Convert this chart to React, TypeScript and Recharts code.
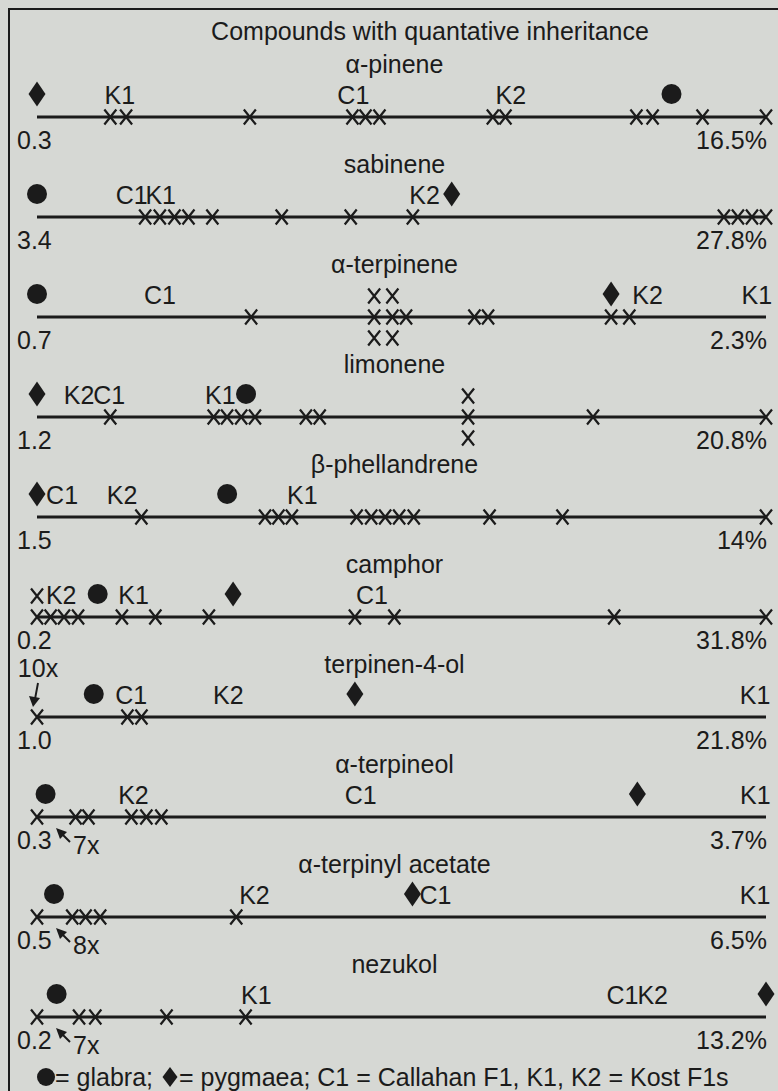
import React from "react";
import { ScatterChart, Scatter, XAxis, YAxis, ReferenceLine } from "recharts";

const FONT = "'Liberation Sans', Arial, sans-serif";
const INK = "#1b1b1b";
const BG = "#d6d8d4";

const compounds = [
  "α-pinene",
  "sabinene",
  "α-terpinene",
  "limonene",
  "β-phellandrene",
  "camphor",
  "terpinen-4-ol",
  "α-terpineol",
  "α-terpinyl acetate",
  "nezukol",
];
const minValues = [0.3, 3.4, 0.7, 1.2, 1.5, 0.2, 1.0, 0.3, 0.5, 0.2];
const maxValues = [16.5, 27.8, 2.3, 20.8, 14, 31.8, 21.8, 3.7, 6.5, 13.2];
const minLabels = ["0.3", "3.4", "0.7", "1.2", "1.5", "0.2", "1.0", "0.3", "0.5", "0.2"];
const maxLabels = ["16.5%", "27.8%", "2.3%", "20.8%", "14%", "31.8%", "21.8%", "3.7%", "6.5%", "13.2%"];

// F2 plants (x marks). repeated values get stacked above / below the line
const f2Values = [
  [1.93, 2.28, 5.03, 7.31, 7.6, 7.91, 10.43, 10.71, 13.62, 13.98, 15.09, 16.5],
  [7.02, 7.51, 8.0, 8.47, 9.27, 11.59, 13.9, 15.98, 26.39, 26.86, 27.33, 27.8],
  [1.17, 1.44, 1.44, 1.44, 1.48, 1.48, 1.48, 1.51, 1.66, 1.69, 1.96, 2.0],
  [3.17, 5.95, 6.31, 6.69, 7.06, 8.43, 8.8, 12.79, 12.79, 12.79, 16.15, 20.8],
  [3.29, 5.41, 5.64, 5.87, 6.98, 7.23, 7.47, 7.71, 7.96, 9.26, 10.51, 14],
  [0.2, 0.2, 0.79, 1.37, 1.98, 3.88, 5.33, 7.65, 13.98, 15.69, 25.22, 31.8],
  [1.0, 3.58, 3.98],
  [0.3, 0.48, 0.54, 0.74, 0.81, 0.88],
  [0.5, 0.79, 0.9, 1.02, 2.14],
  [0.2, 0.95, 1.24, 2.51, 3.92],
];

// parents
const glabra = [14.4, 3.4, 0.7, 6.82, 4.76, 2.83, 2.62, 0.34, 0.64, 0.55];
const pygmaea = [0.3, 17.28, 1.96, 1.2, 1.5, 8.7, 10.07, 3.1, 3.59, 13.2];

// F1s
const c1 = [7.33, 6.57, 0.97, 3.14, 1.93, 14.72, 3.69, 1.81, 3.78, 10.64];
const k1 = [2.14, 7.54, 2.28, 6.13, 6.05, 4.39, 21.49, 3.65, 6.41, 4.11];
const k2 = [10.83, 16.37, 2.04, 2.33, 2.96, 1.25, 6.46, 0.75, 2.29, 11.18];

// piles of identical F2 values at the low end
const pileRows = [6, 7, 8, 9];
const pileCounts = ["10x", "7x", "8x", "7x"];

type Pt = { x: number; y: number; kind: string; text?: string; level?: number };

const rowData: Pt[][] = compounds.map((name, i) => {
  const pts: Pt[] = [];
  const seen: Record<string, number> = {};
  f2Values[i].forEach((v) => {
    const level = seen[v] ?? 0;
    seen[v] = level + 1;
    pts.push({ x: v, y: i, kind: "f2", level });
  });
  pts.push({ x: glabra[i], y: i, kind: "glabra" });
  pts.push({ x: pygmaea[i], y: i, kind: "pygmaea" });
  pts.push({ x: c1[i], y: i, kind: "f1", text: "C1" });
  pts.push({ x: k1[i], y: i, kind: "f1", text: "K1" });
  pts.push({ x: k2[i], y: i, kind: "f1", text: "K2" });
  pts.push({ x: minValues[i], y: i, kind: "min", text: minLabels[i] });
  pts.push({ x: maxValues[i], y: i, kind: "max", text: maxLabels[i] });
  pts.push({ x: (minValues[i] + maxValues[i]) / 2, y: i, kind: "name", text: name });
  const p = pileRows.indexOf(i);
  if (p >= 0) pts.push({ x: minValues[i], y: i, kind: p === 0 ? "pileUp" : "pileDown", text: pileCounts[p] });
  return pts;
});

const txt = { fontFamily: FONT, fontSize: 25, fill: INK };

function Diamond({ x, y, w, h }: { x: number; y: number; w: number; h: number }) {
  return <polygon points={`${x},${y - h} ${x + w},${y} ${x},${y + h} ${x - w},${y}`} fill={INK} />;
}

function Mark(props: any) {
  const { cx, cy, payload } = props;
  if (cx == null || cy == null) return null;
  switch (payload.kind) {
    case "f2": {
      const y = cy + (payload.level === 1 ? -21 : payload.level === 2 ? 21 : 0);
      return (
        <path
          d={`M${cx - 6},${y - 7.5}L${cx + 6},${y + 7.5}M${cx + 6},${y - 7.5}L${cx - 6},${y + 7.5}`}
          stroke={INK}
          strokeWidth={2.2}
        />
      );
    }
    case "glabra":
      return <circle cx={cx} cy={cy - 23} r={10} fill={INK} />;
    case "pygmaea":
      return <Diamond x={cx} y={cy - 23} w={8.5} h={12.5} />;
    case "f1":
      return <text x={cx} y={cy - 13} textAnchor="middle" {...txt}>{payload.text}</text>;
    case "min":
      return <text x={cx - 20} y={cy + 32} {...txt}>{payload.text}</text>;
    case "max":
      return <text x={cx + 1} y={cy + 32} textAnchor="end" {...txt}>{payload.text}</text>;
    case "name":
      return <text x={cx - 7} y={cy - 44} textAnchor="middle" {...txt}>{payload.text}</text>;
    case "pileUp":
      return (
        <g>
          <text x={cx + 1} y={cy - 40} textAnchor="middle" {...txt}>{payload.text}</text>
          <line x1={cx + 1} y1={cy - 34} x2={cx - 2} y2={cy - 18} stroke={INK} strokeWidth={2} />
          <polygon points={`${cx - 4},${cy - 10} ${cx - 8},${cy - 21} ${cx + 3},${cy - 19}`} fill={INK} />
        </g>
      );
    case "pileDown":
      return (
        <g>
          <text x={cx + 36} y={cy + 37} {...txt}>{payload.text}</text>
          <line x1={cx + 33} y1={cy + 25} x2={cx + 24} y2={cy + 16} stroke={INK} strokeWidth={2} />
          <polygon points={`${cx + 19},${cy + 11} ${cx + 30},${cy + 15} ${cx + 23},${cy + 22}`} fill={INK} />
        </g>
      );
    default:
      return null;
  }
}

export default function App() {
  return (
    <div style={{ position: "absolute", left: 0, top: 0, width: 778, height: 1091, background: BG, overflow: "hidden" }}>
      <div
        style={{
          position: "absolute",
          left: 8,
          top: 8,
          width: 820,
          height: 1120,
          border: `2.5px solid ${INK}`,
          boxSizing: "border-box",
        }}
      />
      <ScatterChart
        width={778}
        height={1091}
        margin={{ top: 117, right: 12, bottom: 74, left: 37 }}
        style={{ position: "absolute", left: 0, top: 0 }}
      >
        {compounds.map((c, i) => (
          <XAxis key={c} xAxisId={i} type="number" dataKey="x" domain={[minValues[i], maxValues[i]]} hide />
        ))}
        <YAxis type="number" dataKey="y" domain={[0, compounds.length - 1]} reversed hide />
        {compounds.map((c, i) => (
          <ReferenceLine key={c} xAxisId={i} y={i} stroke={INK} strokeWidth={3} ifOverflow="visible" />
        ))}
        {compounds.map((c, i) => (
          <Scatter
            key={c}
            xAxisId={i}
            data={rowData[i]}
            shape={(p: any) => <Mark {...p} />}
            isAnimationActive={false}
          />
        ))}
      </ScatterChart>
      <svg width={778} height={1091} style={{ position: "absolute", left: 0, top: 0, pointerEvents: "none" }}>
        <text x={430} y={40} textAnchor="middle" {...txt}>
          Compounds with quantative inheritance
        </text>
        <circle cx={46} cy={1077} r={9} fill={INK} />
        <text x={55} y={1086} {...txt}>= glabra;</text>
        <Diamond x={170} y={1077} w={7.5} h={10} />
        <text x={179} y={1086} {...txt}>= pygmaea; C1 = Callahan F1, K1, K2 = Kost F1s</text>
      </svg>
    </div>
  );
}
